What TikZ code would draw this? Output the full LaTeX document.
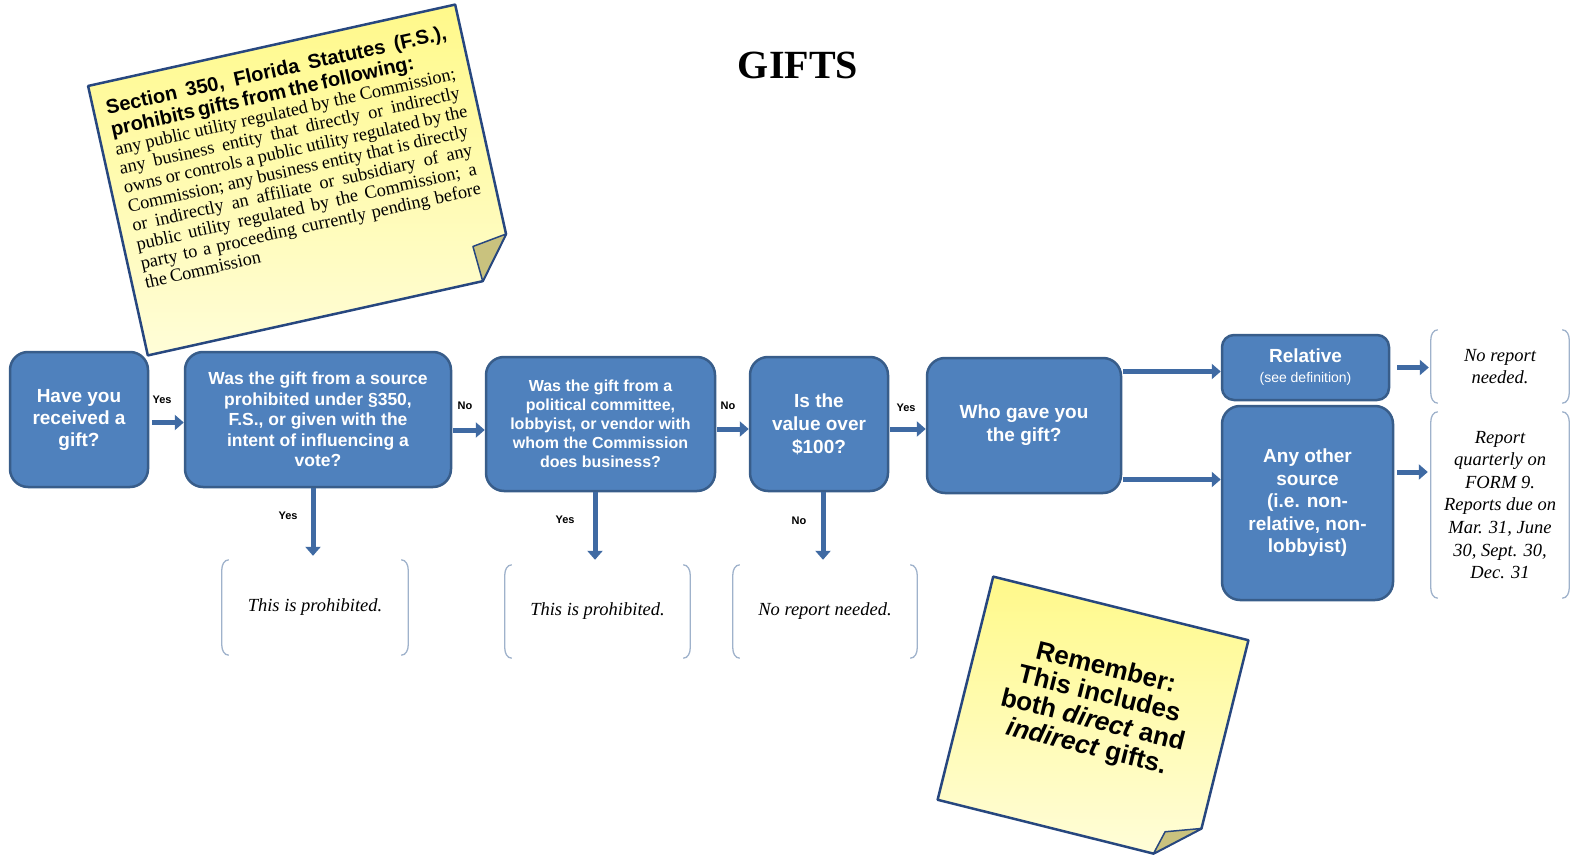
\documentclass[tikz,border=0pt]{standalone}
\usepackage{fontspec}
\setmainfont{Liberation Serif}
\setsansfont{Liberation Sans}
\usetikzlibrary{arrows.meta}

\definecolor{boxblue}{HTML}{4F81BD}
\definecolor{boxedge}{HTML}{385D8A}
\definecolor{arrowblue}{HTML}{3F6AA3}
\definecolor{brkgray}{HTML}{9FB2CB}
\definecolor{notetop}{HTML}{FFF98A}
\definecolor{notebot}{HTML}{FFFDD8}
\definecolor{noteedge}{HTML}{27477F}
\definecolor{foldtan}{HTML}{C9C27E}

\newcommand\fsz[2]{\fontsize{#1}{#2}\selectfont}
\newcommand\jline[1]{\hbox to 348pt{\spaceskip=0.22em plus 1fil\relax #1}\par}
\newcommand\brackets[1]{%
  \draw[brk] ([xshift=7pt]#1.north west) to[out=180,in=90] ([yshift=-10pt]#1.north west)
    -- ([yshift=10pt]#1.south west) to[out=-90,in=180] ([xshift=7pt]#1.south west);
  \draw[brk] ([xshift=-7pt]#1.north east) to[out=0,in=90] ([yshift=-10pt]#1.north east)
    -- ([yshift=10pt]#1.south east) to[out=-90,in=0] ([xshift=-7pt]#1.south east);}

\tikzset{
  qbox/.style={draw=boxedge, line width=2.5pt, fill=boxblue, rounded corners=18pt,
    text=white, align=center, inner sep=2pt},
  flow/.style={draw=arrowblue, line width=5pt, -{Triangle[length=9pt,width=15pt]}},
  lab/.style={font=\sffamily\bfseries\fsz{11}{13}, inner sep=0pt},
  outtext/.style={font=\itshape\fsz{18.5}{22.6}, align=center, inner sep=0pt},
  brk/.style={draw=brkgray, line width=1.3pt},
  note/.style={draw=noteedge, line width=2.5pt, line join=round}
}

\begin{document}
\begin{tikzpicture}[x=1pt,y=-1pt]
\useasboundingbox (0,0) rectangle (1570,858);

\node[font=\bfseries\fsz{40}{44}] (title) at (798,65) {GIFTS};

\begin{scope}[shift={(301.5,180)}, rotate=12.5, transform shape]
  \path[note, top color=notetop, bottom color=notebot]
    (-188,-138) -- (188,-138) -- (188,97) -- (155,138) -- (-188,138) -- cycle;
  \path[note, fill=foldtan, line width=1.5pt] (188,97) -- (153,102) -- (155,138) -- cycle;
  \node[text width=348pt, inner sep=0pt] (lawtext) at (-1,-24) {%
    {\sffamily\bfseries\fsz{20}{22}%
    \jline{Section 350, Florida Statutes (F.S.),}
    \hbox{prohibits gifts from the following:}\par}
    {\fsz{18.3}{19.5}%
    \jline{any public utility regulated by the Commission;}
    \jline{any business entity that directly or indirectly}
    \jline{owns or controls a public utility regulated by the}
    \jline{Commission; any business entity that is directly}
    \jline{or indirectly an affiliate or subsidiary of any}
    \jline{public utility regulated by the Commission; a}
    \jline{party to a proceeding currently pending before}
    \hbox{the Commission}\par}};
\end{scope}

\node[qbox, minimum width=138pt, minimum height=135pt, font=\sffamily\bfseries\fsz{19}{22}] (q1) at (79,419.5)
  {Have you\\received a\\gift?};
\node[qbox, minimum width=266pt, minimum height=135pt, font=\sffamily\bfseries\fsz{17.5}{20.5}] (q2) at (318,419.5)
  {Was the gift from a source\\prohibited under §350,\\F.S., or given with the\\intent of influencing a\\vote?};
\node[qbox, minimum width=229pt, minimum height=134pt, font=\sffamily\bfseries\fsz{16}{19}] (q3) at (600.5,424)
  {Was the gift from a\\political committee,\\lobbyist, or vendor with\\whom the Commission\\does business?};
\node[qbox, minimum width=138pt, minimum height=134pt, font=\sffamily\bfseries\fsz{19}{23}] (q4) at (819,424)
  {Is the\\value over\\\$100?};
\node[qbox, minimum width=194pt, minimum height=135pt, font=\sffamily\bfseries\fsz{19}{23}] (q5) at (1024,425.5)
  {Who gave you\\the gift?};
\node[qbox, minimum width=167pt, minimum height=65pt, rounded corners=12pt, font=\sffamily\bfseries\fsz{19}{20}] (q6) at (1305.5,367.5)
  {Relative\\{\mdseries\fsz{14}{16}(see definition)}};
\node[qbox, minimum width=171pt, minimum height=194pt, font=\sffamily\bfseries\fsz{19}{22.5}] (q7) at (1307.5,503)
  {Any other\\source\\(i.e. non-\\relative, non-\\lobbyist)};

\node[outtext, minimum width=186pt, minimum height=95pt] (o1) at (315,607.5) {This is prohibited.};
\node[outtext, minimum width=185pt, minimum height=93pt] (o2) at (597.5,611.5) {This is prohibited.};
\node[outtext, minimum width=184pt, minimum height=93pt] (o3) at (825,611.5) {No report needed.};
\node[outtext, minimum width=138pt, minimum height=73pt] (o4) at (1500,366.5) {No report\\needed.};
\node[outtext, minimum width=138pt, minimum height=186pt] (o5) at (1500,505)
  {Report\\quarterly on\\FORM 9.\\Reports due on\\Mar. 31, June\\30, Sept. 30,\\Dec. 31};
\brackets{o1}
\brackets{o2}
\brackets{o3}
\brackets{o4}
\brackets{o5}

\draw[flow, shorten <=3pt] ([yshift=-3pt]q1.east) -- ([yshift=-3pt]q2.west);
\draw[flow, shorten <=1pt] ([yshift=-6pt]q3.west -| q2.east) -- ([yshift=-6pt]q3.west);
\draw[flow, shorten <=1pt] ([yshift=-5pt]q3.east) -- ([yshift=-5pt]q4.west);
\draw[flow, shorten <=1pt] ([yshift=-5pt]q4.east) -- ([yshift=-5pt]q4.east -| q5.west);
\draw[flow, shorten <=1pt] ([yshift=-4pt]q6.west -| q5.east) -- ([yshift=-4pt]q6.west);
\draw[flow, shorten <=1pt] ([yshift=-54pt]q5.east) -- ([yshift=-54pt]q5.east -| q7.west);
\draw[flow, shorten <=7pt, shorten >=2pt] (q6.east) -- (q6.east -| o4.west);
\draw[flow, shorten <=3pt, shorten >=3pt] ([yshift=31pt]q7.east) -- ([yshift=31pt]q7.east -| o5.west);
\draw[flow, shorten >=4pt] ([xshift=-5pt]q2.south) -- ([xshift=-5pt]q2.south |- o1.north);
\draw[flow, shorten >=5pt] ([xshift=-5.5pt]q3.south) -- ([xshift=-5.5pt]q3.south |- o2.north);
\draw[flow, shorten >=5pt] ([xshift=4pt]q4.south) -- ([xshift=4pt]q4.south |- o3.north);

\node[lab] (yes1) at (162,400) {Yes};
\node[lab] (no1) at (465,406) {No};
\node[lab] (no2) at (728,406) {No};
\node[lab] (yes2) at (906,408) {Yes};
\node[lab] (yes3) at (288,516) {Yes};
\node[lab] (yes4) at (565,520) {Yes};
\node[lab] (no3) at (799,521) {No};

\begin{scope}[shift={(1093,720)}, rotate=-14, transform shape]
  \path[note, top color=notetop, bottom color=notebot]
    (-131.5,-115) -- (131.5,-115) -- (131.5,79) -- (91,115) -- (-131.5,115) -- cycle;
  \path[note, fill=foldtan, line width=1.5pt] (131.5,79) -- (97,91) -- (91,115) -- cycle;
  \node[font=\sffamily\bfseries\fsz{26}{27}, align=center] (remind) at (0,-12)
    {Remember:\\This includes\\both \textit{direct} and\\\textit{indirect} gifts.};
\end{scope}
\end{tikzpicture}
\end{document}
